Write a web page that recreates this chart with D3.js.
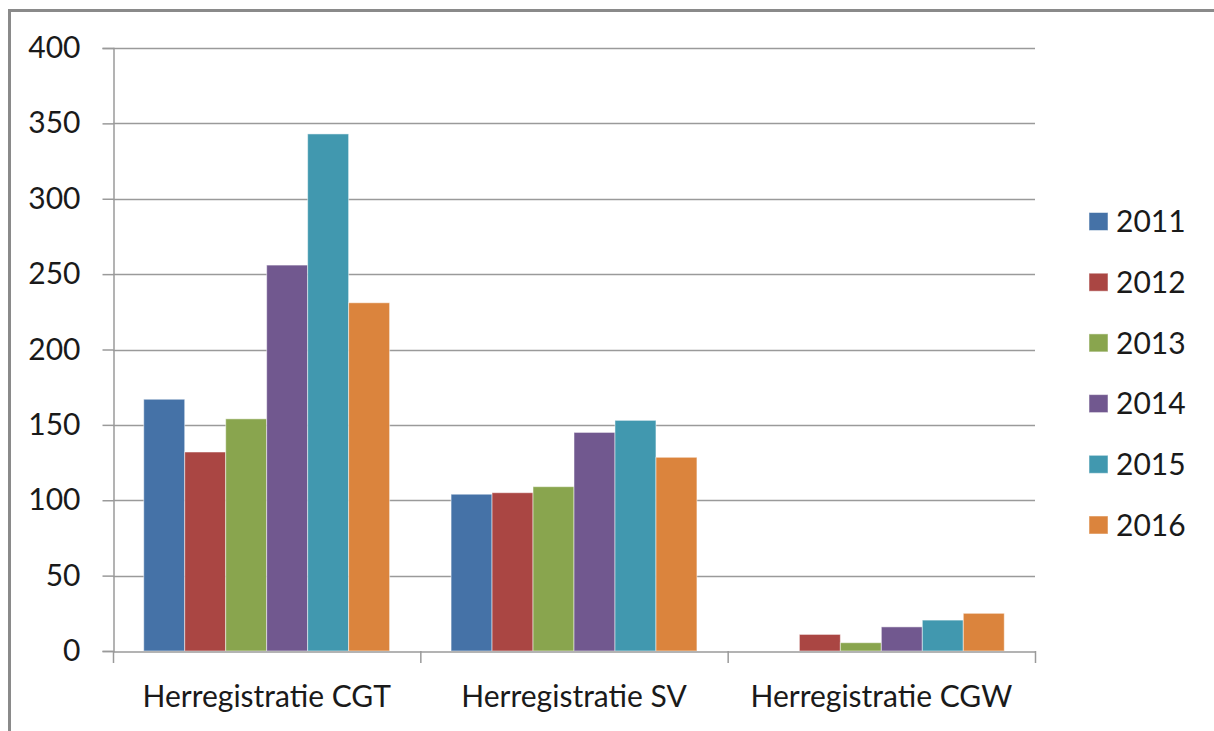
<!DOCTYPE html>
<html>
<head>
<meta charset="utf-8">
<script src="https://cdn.jsdelivr.net/npm/d3@7"></script>
<style>
  html, body { margin: 0; padding: 0; background: #fff; }
  svg { display: block; }
  text { font-family: Lato, "Open Sans", sans-serif; fill: #1a1a1a; }
</style>
</head>
<body>
<svg id="chart" width="1214" height="731"></svg>
<script>
const categories = ["Herregistratie CGT", "Herregistratie SV", "Herregistratie CGW"];
const years = ["2011", "2012", "2013", "2014", "2015", "2016"];
const values2011 = [167, 104, 0];
const values2012 = [132, 105, 11];
const values2013 = [154, 109, 5.5];
const values2014 = [256, 145, 16];
const values2015 = [343, 153, 20.5];
const values2016 = [231, 128.5, 25];
const colors = ["#4572A7", "#AA4643", "#89A54E", "#71588F", "#4198AF", "#DB843D"];
const yTicks = [0, 50, 100, 150, 200, 250, 300, 350, 400];

const series = [values2011, values2012, values2013, values2014, values2015, values2016];

const svg = d3.select("#chart");
const mLeft = 113, mRight = 1035, mTop = 48, mBottom = 651;
const fontSize = "30px";

// frame
svg.append("line").attr("x1", 9.5).attr("x2", 1214).attr("y1", 10.5).attr("y2", 10.5)
  .attr("stroke", "#8a8a8a").attr("stroke-width", 3);
svg.append("line").attr("x1", 9.5).attr("x2", 9.5).attr("y1", 9).attr("y2", 731)
  .attr("stroke", "#8a8a8a").attr("stroke-width", 3);

const y = d3.scaleLinear().domain([0, 400]).range([mBottom, mTop]);
const x0 = d3.scaleBand().domain(categories).range([mLeft, mRight]).paddingInner(0).paddingOuter(0);
const bw = x0.bandwidth();
const x1 = d3.scaleBand().domain(years).range([bw * 0.1, bw * 0.9]).padding(0);

// gridlines
svg.append("g").selectAll("line").data(yTicks.filter(d => d > 0)).join("line")
  .attr("x1", mLeft).attr("x2", mRight)
  .attr("y1", d => Math.round(y(d)) + 0.5).attr("y2", d => Math.round(y(d)) + 0.5)
  .attr("stroke", "#9a9a9a").attr("stroke-width", 1.5);

// y axis
const yAxis = svg.append("g").attr("transform", `translate(${mLeft + 0.5},0)`)
  .call(d3.axisLeft(y).tickValues(yTicks).tickSize(11).tickPadding(22));
yAxis.select(".domain").attr("stroke", "#9a9a9a").attr("stroke-width", 1.5);
yAxis.selectAll(".tick line").attr("stroke", "#9a9a9a").attr("stroke-width", 1.5);
yAxis.selectAll(".tick text").style("font-size", fontSize).style("font-family", "Lato, sans-serif").attr("fill", "#1a1a1a");

// bars
const groups = svg.append("g").selectAll("g").data(categories).join("g")
  .attr("transform", d => `translate(${x0(d)},0)`);
groups.selectAll("rect")
  .data((c, ci) => years.map((yr, si) => ({ yr, v: series[si][ci], color: colors[si] })))
  .join("rect")
  .attr("x", d => x1(d.yr))
  .attr("width", x1.bandwidth())
  .attr("y", d => y(d.v))
  .attr("height", d => mBottom - y(d.v))
  .attr("fill", d => d.color)
  .attr("stroke", "rgba(255,255,255,0.5)")
  .attr("stroke-width", d => d.v > 0 ? 1 : 0);

// x axis
const xAxis = svg.append("g").attr("transform", `translate(0,${mBottom + 0.5})`)
  .call(d3.axisBottom(x0).tickSize(0).tickPadding(34));
xAxis.select(".domain").attr("stroke", "#9a9a9a").attr("stroke-width", 1.5);
xAxis.selectAll(".tick text").style("font-size", fontSize).style("font-family", "Lato, sans-serif").attr("fill", "#1a1a1a");
// category separator ticks
svg.append("g").selectAll("line")
  .data([mLeft, ...categories.map(c => x0(c) + bw)])
  .join("line")
  .attr("x1", d => d + 0.5).attr("x2", d => d + 0.5)
  .attr("y1", mBottom).attr("y2", mBottom + 12)
  .attr("stroke", "#9a9a9a").attr("stroke-width", 1.5);

// legend
const legend = svg.append("g").selectAll("g").data(years).join("g")
  .attr("transform", (d, i) => `translate(1089,${221.5 + i * 60.7})`);
legend.append("rect").attr("x", 0).attr("y", -9).attr("width", 19).attr("height", 18)
  .attr("fill", (d, i) => colors[i]).attr("stroke", "rgba(255,255,255,0.5)");
legend.append("text").attr("x", 27).attr("y", 0).attr("dy", "0.36em")
  .style("font-size", fontSize).text(d => d);
</script>
</body>
</html>
